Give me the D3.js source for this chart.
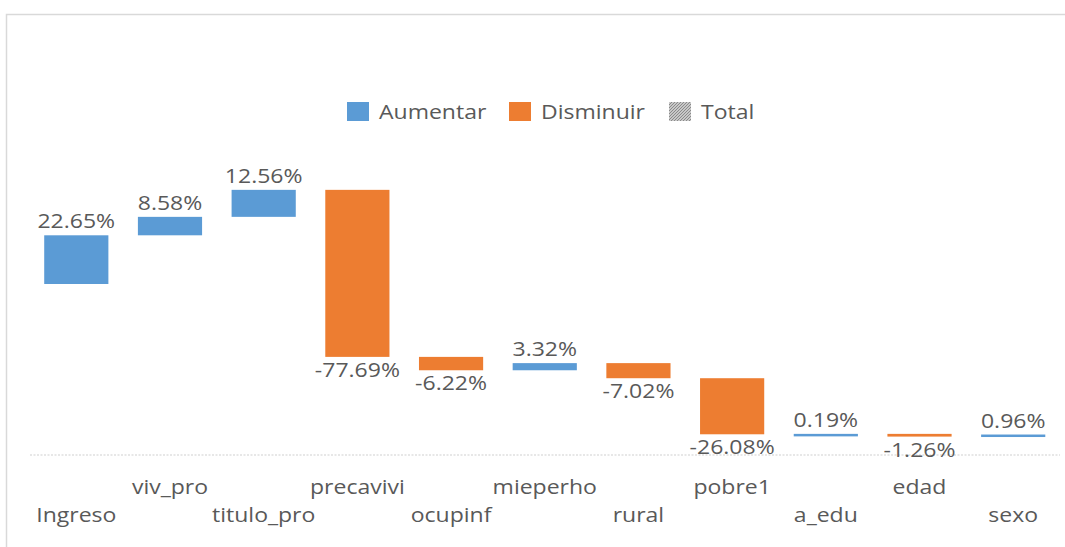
<!DOCTYPE html>
<html><head><meta charset="utf-8">
<script src="https://cdn.jsdelivr.net/npm/d3@7"></script>
<style>body{margin:0;background:#fff;}svg{display:block;}text{font-family:"Open Sans",sans-serif;fill:#595959;}</style>
</head><body>
<svg id="c" width="1065" height="547"></svg>
<script>
const categories = ["Ingreso","viv_pro","titulo_pro","precavivi","ocupinf","mieperho","rural","pobre1","a_edu","edad","sexo"];
const values = [22.65, 8.58, 12.56, -77.69, -6.22, 3.32, -7.02, -26.08, 0.19, -1.26, 0.96];
const labels = ["22.65%","8.58%","12.56%","-77.69%","-6.22%","3.32%","-7.02%","-26.08%","0.19%","-1.26%","0.96%"];
const legendItems = ["Aumentar","Disminuir","Total"];
const yDomain = [-80, 60];

const colors = {Aumentar:"#5b9bd5", Disminuir:"#ed7d31", Total:"#a5a5a5"};
const SX = 1.18, FS = 19.5;
const svg = d3.select("#c");

// pattern for Total
const defs = svg.append("defs");
const pat = defs.append("pattern").attr("id","hatch").attr("width",3).attr("height",3).attr("patternUnits","userSpaceOnUse");
pat.append("rect").attr("width",3).attr("height",3).attr("fill","#c8c8c8");
pat.append("path").attr("d","M0,3 L3,0").attr("stroke","#8a8a8a").attr("stroke-width",1);

// frame
svg.append("path").attr("d","M6.5,547 L6.5,14.5 L1065,14.5").attr("fill","none").attr("stroke","#d9d9d9").attr("stroke-width",1.5);

// data
let cum = 0;
const data = categories.map((c,i)=>{ const s=cum; cum+=values[i]; return {c, v:values[i], s, e:cum, label:labels[i], i}; });

const x = d3.scaleBand().domain(categories).range([29.5, 1060]).paddingInner(0.315).paddingOuter(0.157);
const y = d3.scaleLinear().domain(yDomain).range([456, 155]);

function txt(g, str, tx, ty, anchor){
  return g.append("text").attr("transform",`translate(${tx},${ty}) scale(${SX},1)`)
    .attr("text-anchor",anchor||"middle").style("font-size",FS+"px").text(str);
}

// axis line
svg.append("line").attr("x1",30).attr("x2",1060).attr("y1",y(-80)-1).attr("y2",y(-80)-1)
  .attr("stroke","#d0d0d0").attr("stroke-width",1.2).attr("stroke-dasharray","2,1.5");

// bars
svg.selectAll("rect.bar").data(data).join("rect").attr("class","bar")
  .attr("x",d=>x(d.c)).attr("width",x.bandwidth())
  .attr("y",d=>y(Math.max(d.s,d.e)))
  .attr("height",d=>Math.max(2.5, Math.abs(y(d.s)-y(d.e))))
  .attr("fill",d=>d.v>=0?colors.Aumentar:colors.Disminuir);

// value labels
const lg = svg.append("g");
data.forEach(d=>{
  const cx = x(d.c)+x.bandwidth()/2;
  if(d.v>=0){ txt(lg, d.label, cx, y(d.e)-7); }
  else { txt(lg, d.label, cx, Math.max(y(d.e), y(d.s)+2.5)+20); }
});

// category labels (staggered)
const cg = svg.append("g");
data.forEach(d=>{
  const cx = x(d.c)+x.bandwidth()/2;
  txt(cg, d.c, cx, d.i%2===1 ? 494 : 522);
});

// legend
const leg = svg.append("g");
const legX = [347, 509, 669];
legendItems.forEach((k,i)=>{
  leg.append("rect").attr("x",legX[i]).attr("y",102).attr("width",22).attr("height",19)
    .attr("fill", k==="Total" ? "url(#hatch)" : colors[k]);
  txt(leg, k, legX[i]+32, 119, "start");
});
</script>
</body></html>
